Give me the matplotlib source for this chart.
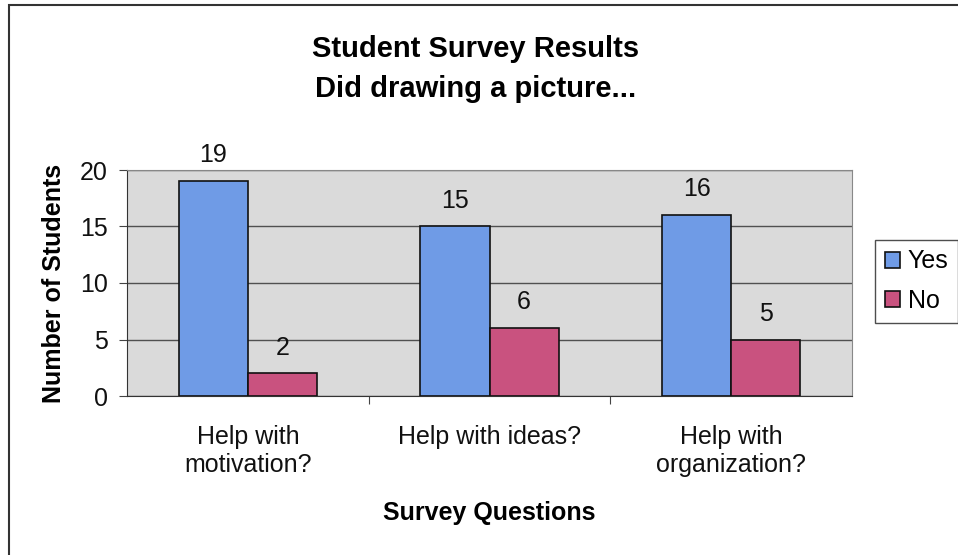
import matplotlib.pyplot as plt
import numpy as np
from matplotlib.patches import Rectangle

questions = ["Help with\nmotivation?", "Help with ideas?", "Help with\norganization?"]
yes_counts = [19, 15, 16]
no_counts = [2, 6, 5]
y_ticks = [0, 5, 10, 15, 20]

plt.rcParams['font.family'] = ['Liberation Sans', 'DejaVu Sans']

fig = plt.figure(figsize=(9.58, 5.55), dpi=100)
ax = fig.add_axes([127 / 958, 1 - 396 / 555, 725 / 958, 226 / 555])

# outer chart frame
fig.patches.append(Rectangle((9 / 958, -0.05), 1.1, 1 - 5 / 555 + 0.05,
                             transform=fig.transFigure, fill=False,
                             edgecolor='#333333', linewidth=1.5))

x = np.arange(len(questions))
w = 1 / 3.5
bars_yes = ax.bar(x - w / 2, yes_counts, w, color='#6f9be6', edgecolor='#111111',
                  linewidth=1.2, label='Yes', zorder=3)
bars_no = ax.bar(x + w / 2, no_counts, w, color='#c9527f', edgecolor='#111111',
                 linewidth=1.2, label='No', zorder=3)

for bars, vals in ((bars_yes, yes_counts), (bars_no, no_counts)):
    for b, v in zip(bars, vals):
        ax.annotate(str(v), (b.get_x() + b.get_width() / 2, v),
                    xytext=(0, 10), textcoords='offset points',
                    ha='center', va='bottom', fontsize=18, color='#111111')

ax.set_facecolor('#dadada')
ax.set_xlim(-0.5, 2.5)
ax.set_ylim(0, 20)
ax.set_yticks(y_ticks)
ax.yaxis.grid(True, color='#505050', linewidth=1, zorder=1)
ax.set_axisbelow(True)

ax.set_xticks([0.5, 1.5])
ax.set_xticklabels(['', ''])
ax.tick_params(axis='x', length=6, color='#444444')
ax.set_xticks(x, minor=True)
ax.set_xticklabels(questions, minor=True, fontsize=18, color='#111111')
ax.tick_params(axis='x', which='minor', length=0, pad=21)
ax.tick_params(axis='y', labelsize=18, length=6, pad=8, color='#444444',
               labelcolor='#111111')

for s in ['top', 'right']:
    ax.spines[s].set_color('#888888')
for s in ['left', 'bottom']:
    ax.spines[s].set_color('#333333')

ax.set_ylabel('Number of Students', fontsize=18, fontweight='bold', labelpad=10)
ax.set_xlabel('Survey Questions', fontsize=18, fontweight='bold', labelpad=17)

fig.text(476 / 958, 1 - 49 / 555, 'Student Survey Results', ha='center', va='center',
         fontsize=21, fontweight='bold')
fig.text(476 / 958, 1 - 89 / 555, 'Did drawing a picture...', ha='center', va='center',
         fontsize=21, fontweight='bold')

leg = ax.legend(loc='center left', bbox_to_anchor=(875 / 958, 1 - 281 / 555),
                bbox_transform=fig.transFigure, fontsize=18, frameon=True,
                fancybox=False, edgecolor='#222222', handlelength=0.6,
                handleheight=0.6, handletextpad=0.3, borderpad=0.4, labelspacing=0.6,
                borderaxespad=0)
leg.get_frame().set_linewidth(1)

fig.savefig('out.png', dpi=100)
